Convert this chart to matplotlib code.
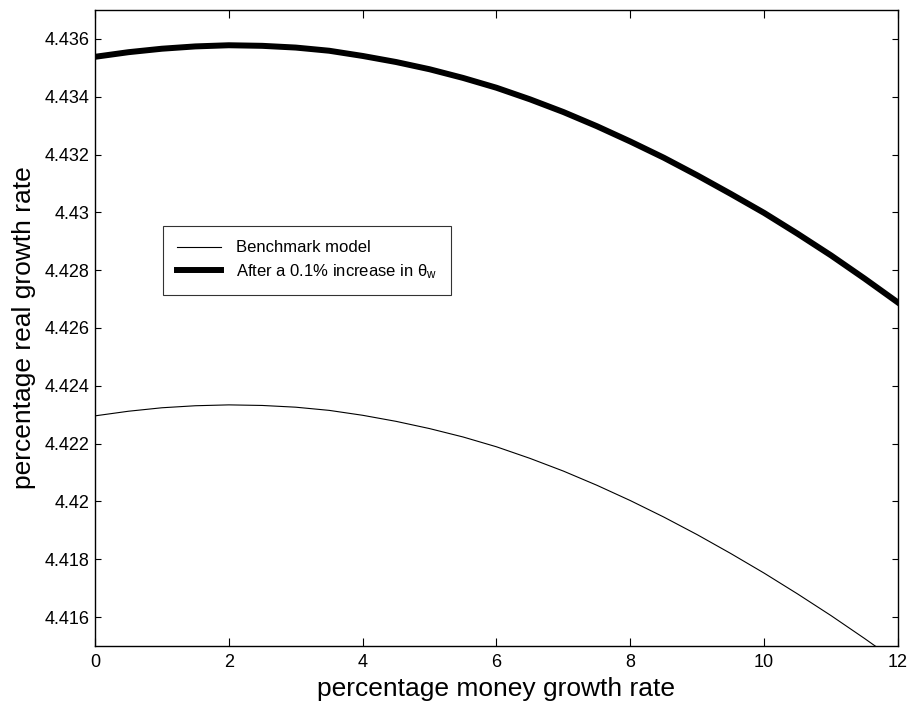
import matplotlib
matplotlib.use("Agg")
import matplotlib.pyplot as plt

# money growth rate (%)
money_growth = [0, 0.5, 1, 1.5, 2, 2.5, 3, 3.5, 4, 4.5, 5, 5.5, 6,
                6.5, 7, 7.5, 8, 8.5, 9, 9.5, 10, 10.5, 11, 11.5, 12]

# real growth rate (%) - benchmark model
benchmark = [4.42296, 4.42312, 4.42324, 4.42331, 4.42334, 4.42332, 4.42326,
             4.42315, 4.42298, 4.42277, 4.42252, 4.42223, 4.42189, 4.42149,
             4.42105, 4.42056, 4.42003, 4.41946, 4.41885, 4.41820, 4.41752,
             4.41680, 4.41605, 4.41526, 4.41444]

# real growth rate (%) - after a 0.1% increase in theta_w
after_increase = [4.43538, 4.43554, 4.43566, 4.43574, 4.43578, 4.43576, 4.43570,
                  4.43559, 4.43541, 4.43520, 4.43495, 4.43465, 4.43431, 4.43391,
                  4.43347, 4.43298, 4.43245, 4.43189, 4.43128, 4.43064, 4.42998,
                  4.42926, 4.42851, 4.42771, 4.42688]

xticks = [0, 2, 4, 6, 8, 10, 12]
yticks = [4.416, 4.418, 4.42, 4.422, 4.424, 4.426, 4.428, 4.43, 4.432, 4.434, 4.436]
ytick_labels = ['4.416', '4.418', '4.42', '4.422', '4.424', '4.426', '4.428',
                '4.43', '4.432', '4.434', '4.436']

plt.rcParams['font.family'] = ['Liberation Sans', 'DejaVu Sans']
plt.rcParams['mathtext.default'] = 'regular'

fig = plt.figure(figsize=(9.15, 7.08), dpi=100)
ax = fig.add_axes([0.1038, 0.0876, 0.8776, 0.8983])

ax.plot(money_growth, benchmark, color='black', linewidth=0.8, label='Benchmark model')
ax.plot(money_growth, after_increase, color='black', linewidth=4.3,
        label=r'After a 0.1% increase in $\theta_w$')

ax.set_xlim(0, 12)
ax.set_ylim(4.415, 4.437)
ax.set_xticks(xticks)
ax.set_yticks(yticks)
ax.set_yticklabels(ytick_labels)

ax.tick_params(axis='both', direction='in', top=True, right=True,
               labelsize=13, width=0.8)
ax.tick_params(axis='x', length=6, pad=6)
ax.tick_params(axis='y', length=4.5, pad=4)
for s in ax.spines.values():
    s.set_linewidth(1.0)

ax.set_xlabel('percentage money growth rate', fontsize=19, labelpad=4)
ax.set_ylabel('percentage real growth rate', fontsize=19, labelpad=6)

# legend box placed like the original (upper left corner near x=0.085, y=0.66)
leg = ax.legend(loc='upper left', bbox_to_anchor=(0.085, 0.66), fontsize=12,
                frameon=True, fancybox=False, edgecolor='black',
                handlelength=2.6, handletextpad=0.9, borderpad=0.85,
                labelspacing=0.4, borderaxespad=0)
leg.get_frame().set_linewidth(0.8)

plt.savefig('out.png', dpi=100)
